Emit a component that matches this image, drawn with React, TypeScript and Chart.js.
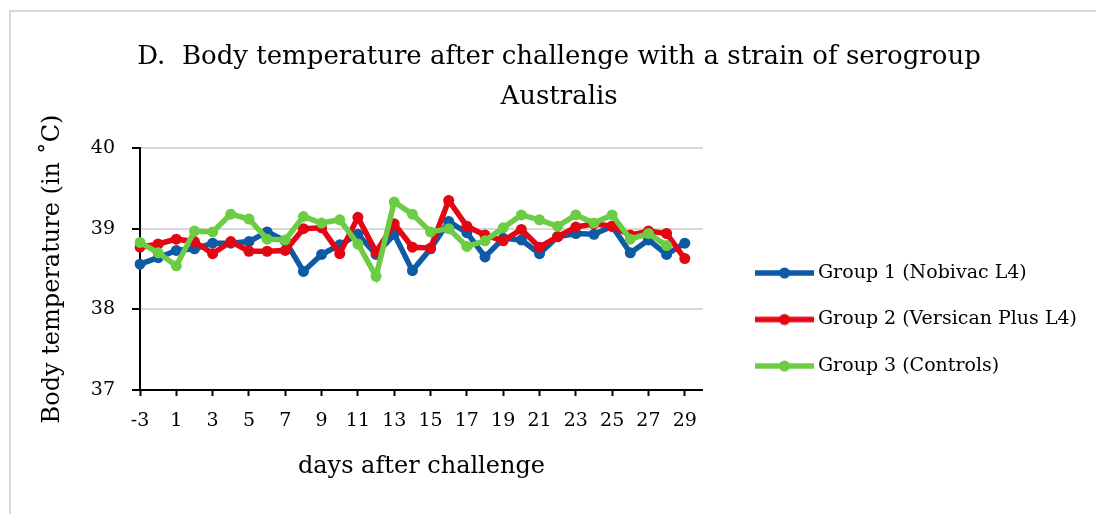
import React, { useEffect, useRef } from 'react';
import { Chart, registerables } from 'chart.js';

Chart.register(...registerables);

const FONT = "'DejaVu Serif', serif";

const dayLabels = ['-3', '0', '1', '2', '3', '4', '5', '6', '7', '8', '9', '10', '11', '12', '13', '14', '15', '16', '17', '18', '19', '20', '21', '22', '23', '24', '25', '26', '27', '28', '29', '30'];

const group1 = [38.56, 38.64, 38.73, 38.75, 38.82, 38.82, 38.84, 38.96, 38.85, 38.47, 38.68, 38.80, 38.93, 38.68, 38.93, 38.48, 38.75, 39.09, 38.95, 38.65, 38.88, 38.86, 38.69, 38.90, 38.94, 38.93, 39.03, 38.70, 38.86, 38.68, 38.82, null];
const group2 = [38.77, 38.81, 38.87, 38.84, 38.69, 38.84, 38.72, 38.72, 38.73, 39.00, 39.01, 38.69, 39.14, 38.71, 39.06, 38.77, 38.76, 39.35, 39.03, 38.92, 38.85, 38.99, 38.77, 38.90, 39.02, 39.06, 39.03, 38.92, 38.97, 38.94, 38.63, null];
const group3 = [38.83, 38.70, 38.54, 38.97, 38.96, 39.18, 39.12, 38.87, 38.86, 39.15, 39.07, 39.11, 38.81, 38.41, 39.33, 39.18, 38.96, 39.00, 38.78, 38.85, 39.01, 39.17, 39.11, 39.03, 39.17, 39.07, 39.17, 38.87, 38.94, 38.79, null, null];

const seriesNames = ['Group 1 (Nobivac L4)', 'Group 2 (Versican Plus L4)', 'Group 3 (Controls)'];
const seriesColors = ['#0E5AA4', '#E30613', '#6CCD45'];
const titleLines = ['D.  Body temperature after challenge with a strain of serogroup', 'Australis'];
const xTitle = 'days after challenge';
const yTitle = 'Body temperature (in ˚C)';
const yMin = 37;
const yMax = 40;

function makeLegendIcon(color: string) {
  const c = document.createElement('canvas');
  c.width = 89;
  c.height = 14;
  const g = c.getContext('2d')!;
  g.strokeStyle = color;
  g.lineWidth = 5.5;
  g.beginPath();
  g.moveTo(30, 7);
  g.lineTo(89, 7);
  g.stroke();
  g.fillStyle = color;
  g.beginPath();
  g.arc(59.5, 7, 5.5, 0, Math.PI * 2);
  g.fill();
  return c;
}

export default function App() {
  const ref = useRef<HTMLCanvasElement>(null);

  useEffect(() => {
    if (!ref.current) return;
    const icons = seriesColors.map(makeLegendIcon);
    const series = [group1, group2, group3];
    const chart = new Chart(ref.current, {
      type: 'line',
      data: {
        labels: dayLabels,
        datasets: series.map((d, i) => ({
          label: seriesNames[i],
          data: d,
          borderColor: seriesColors[i],
          backgroundColor: seriesColors[i],
          pointBackgroundColor: seriesColors[i],
          pointBorderColor: seriesColors[i],
          pointBorderWidth: 0,
          pointRadius: 5.5,
          borderWidth: 5.5,
          tension: 0,
          order: 3 - i,
        })),
      },
      options: {
        responsive: false,
        animation: false,
        layout: { padding: { left: 31, right: 9, top: 0, bottom: 0 } },
        plugins: {
          title: {
            display: true,
            text: titleLines,
            color: '#000',
            font: { family: FONT, size: 26, weight: 'normal', lineHeight: 40 / 26 },
            padding: { top: 37, bottom: 31 },
          },
          legend: {
            position: 'right',
            align: 'start',
            maxWidth: 394,
            title: { display: true, text: '', font: { size: 10 }, padding: { top: 224, bottom: 0 } },
            labels: {
              usePointStyle: true,
              pointStyleWidth: 78,
              padding: 27.5,
              color: '#000',
              font: { family: FONT, size: 19 },
              sort: (a: any, b: any) => a.datasetIndex - b.datasetIndex,
              generateLabels: (c: any) =>
                (Chart.defaults.plugins.legend.labels.generateLabels as any)(c).map((it: any) => ({
                  ...it,
                  pointStyle: icons[it.datasetIndex],
                })),
            },
          },
          tooltip: { enabled: false },
        },
        scales: {
          x: {
            type: 'category',
            offset: false,
            grid: {
              drawOnChartArea: false,
              tickLength: 6,
              tickWidth: 2,
              tickColor: (ctx: any) => (ctx.index % 2 === 0 ? '#000' : 'rgba(0,0,0,0)'),
            },
            border: { color: '#000', width: 2 },
            ticks: {
              autoSkip: false,
              maxRotation: 0,
              minRotation: 0,
              padding: 14,
              color: '#000',
              font: { family: FONT, size: 19 },
              callback: (_v: any, i: number) => (i % 2 === 0 ? dayLabels[i] : ''),
            },
            title: {
              display: true,
              text: xTitle,
              color: '#000',
              font: { family: FONT, size: 24 },
              padding: { top: 0, bottom: 32.6 },
            },
            afterFit: (s: any) => {
              s.height = 124;
            },
          },
          y: {
            min: yMin,
            max: yMax,
            ticks: { stepSize: 1, padding: 17, color: '#000', font: { family: FONT, size: 19 } },
            grid: {
              color: (ctx: any) => (ctx.tick && ctx.tick.value === yMin ? 'rgba(0,0,0,0)' : '#D9D9D9'),
              lineWidth: 2,
              tickLength: 8,
              tickWidth: 2,
              tickColor: '#000',
            },
            border: { color: '#000', width: 2 },
            title: {
              display: true,
              text: yTitle,
              color: '#000',
              font: { family: FONT, size: 24 },
              padding: { top: 7.6, bottom: 0 },
            },
            afterFit: (s: any) => {
              s.width = 109;
            },
          },
        },
      } as any,
    });
    return () => chart.destroy();
  }, []);

  return (
    <div style={{ position: 'absolute', left: 0, top: 0, width: 1096, height: 514, overflow: 'hidden', background: '#fff' }}>
      <div
        style={{
          position: 'absolute',
          left: 9,
          top: 10,
          width: 1200,
          height: 600,
          border: '2px solid #D9D9D9',
          pointerEvents: 'none',
        }}
      />
      <canvas ref={ref} width={1096} height={514} style={{ position: 'absolute', left: 0, top: 0, width: 1096, height: 514 }} />
    </div>
  );
}
